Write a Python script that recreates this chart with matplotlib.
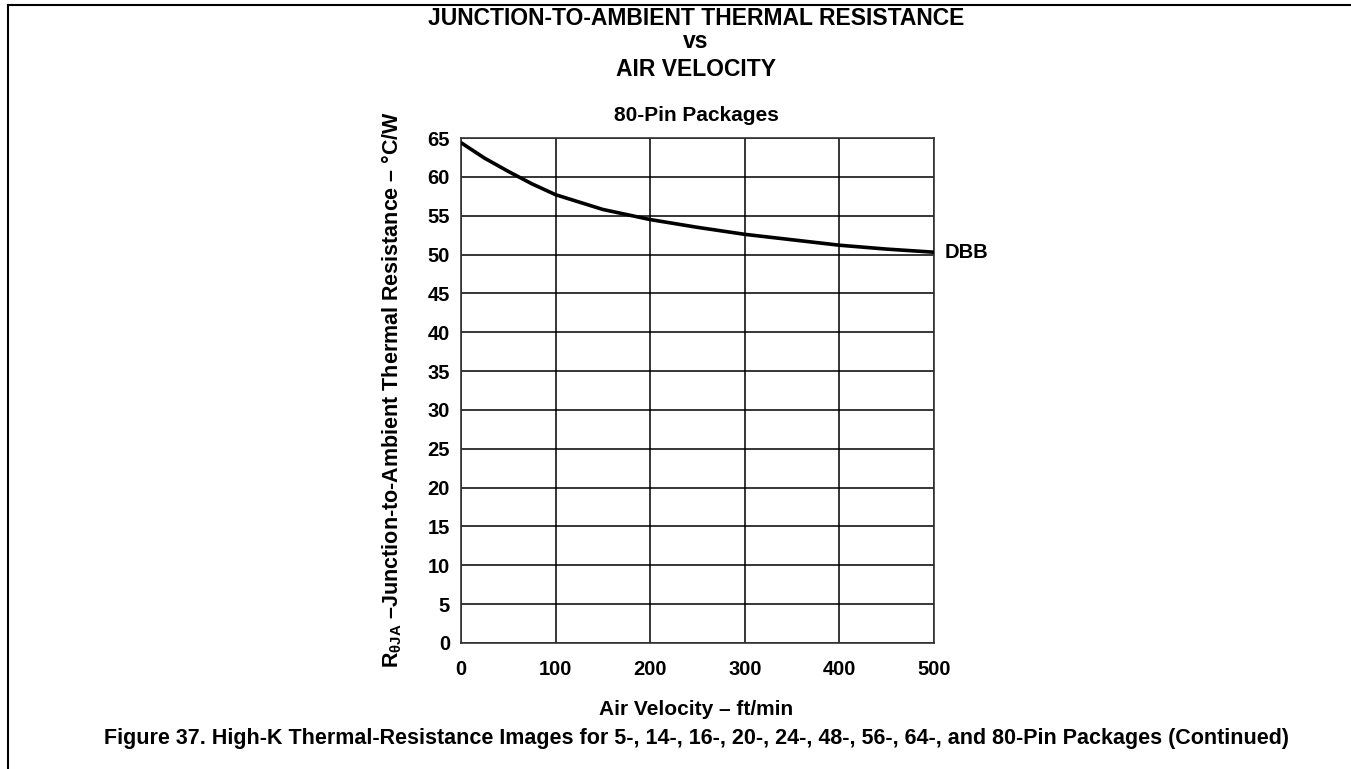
import matplotlib
matplotlib.use("Agg")
import matplotlib.pyplot as plt
from matplotlib.lines import Line2D

plt.rcParams['font.family'] = ['Liberation Sans', 'DejaVu Sans']
plt.rcParams['font.weight'] = 'bold'
plt.rcParams['mathtext.fontset'] = 'custom'
plt.rcParams['mathtext.rm'] = 'Liberation Sans:bold'
plt.rcParams['mathtext.it'] = 'Liberation Sans:bold'
plt.rcParams['mathtext.bf'] = 'Liberation Sans:bold'

# Data
air_velocity = [0, 25, 50, 75, 100, 150, 200, 250, 300, 350, 400, 450, 500]
r_theta_ja = [64.4, 62.4, 60.7, 59.1, 57.7, 55.8, 54.5, 53.5, 52.6, 51.9, 51.2, 50.7, 50.3]
series_label = "DBB"
x_ticks = [0, 100, 200, 300, 400, 500]
y_ticks = [0, 5, 10, 15, 20, 25, 30, 35, 40, 45, 50, 55, 60, 65]

W, H = 1351, 769
fig = plt.figure(figsize=(W / 100, H / 100), dpi=100)
ax = fig.add_axes([461 / W, 1 - 643 / H, (934 - 461) / W, (643 - 138) / H])

ax.plot(air_velocity, r_theta_ja, color='black', lw=2.6, solid_capstyle='butt',
        solid_joinstyle='round', zorder=3)
ax.set_xlim(0, 500)
ax.set_ylim(0, 65)
ax.set_xticks(x_ticks)
ax.set_yticks(y_ticks)
ax.grid(True, color='black', lw=1.1)
ax.tick_params(length=0, labelsize=14.5)
ax.tick_params(axis='x', pad=12.5)
ax.tick_params(axis='y', pad=8)
for lab in ax.get_xticklabels() + ax.get_yticklabels():
    lab.set_fontweight('bold')
for s in ax.spines.values():
    s.set_color('#333333')
    s.set_linewidth(1.2)

ax.text(1.022, r_theta_ja[-1], series_label, transform=ax.get_yaxis_transform(),
        fontsize=14.5, fontweight='bold', va='center', ha='left')

ax.set_xlabel("Air Velocity – ft/min", fontsize=15, fontweight='bold')
ax.xaxis.set_label_coords(0.496, -0.113)
ax.set_ylabel(r"R$_{\theta\mathrm{JA}}$ –Junction-to-Ambient Thermal Resistance – °C/W",
              fontsize=15.5, fontweight='bold')
ax.yaxis.set_label_coords(-0.12, 0.502)

cx = 696 / W
fig.text(cx, 1 - 25 / H, "JUNCTION-TO-AMBIENT THERMAL RESISTANCE", ha='center', va='baseline',
         fontsize=16.5, fontweight='bold')
fig.text(cx, 1 - 48 / H, "vs", ha='center', va='baseline', fontsize=16.5, fontweight='bold')
fig.text(cx, 1 - 76 / H, "AIR VELOCITY", ha='center', va='baseline', fontsize=16.5, fontweight='bold')
fig.text(cx, 1 - 121 / H, "80-Pin Packages", ha='center', va='baseline', fontsize=15, fontweight='bold')
fig.text(697 / W, 1 - 744 / H,
         "Figure 37. High-K Thermal-Resistance Images for 5-, 14-, 16-, 20-, 24-, 48-, 56-, 64-, and 80-Pin Packages (Continued)",
         ha='center', va='baseline', fontsize=15.5, fontweight='bold')

# frame lines
fig.add_artist(Line2D([8 / W, 8 / W], [0, 1 - 5 / H], transform=fig.transFigure, color='black', lw=1.5))
fig.add_artist(Line2D([8 / W, 1], [1 - 5 / H, 1 - 5 / H], transform=fig.transFigure, color='black', lw=1.5))

fig.savefig("out.png", dpi=100)
